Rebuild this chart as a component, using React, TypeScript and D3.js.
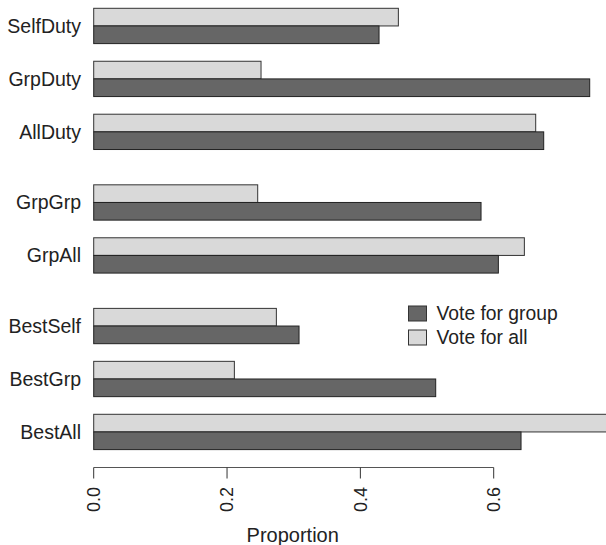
import React from "react";
import * as d3 from "d3";

const categories = ["SelfDuty", "GrpDuty", "AllDuty", "GrpGrp", "GrpAll", "BestSelf", "BestGrp", "BestAll"];
const groupOf = [0, 0, 0, 1, 1, 2, 2, 2];
const voteForGroup = [0.428, 0.744, 0.675, 0.581, 0.607, 0.308, 0.513, 0.641];
const voteForAll = [0.457, 0.251, 0.663, 0.246, 0.646, 0.274, 0.211, 0.78];
const xTicks = [0, 0.2, 0.4, 0.6];
const seriesNames = ["Vote for group", "Vote for all"];

const W = 606;
const H = 545;
const DARK = "#666666";
const LIGHT = "#d9d9d9";
const FONT = "'Liberation Sans', Arial, Helvetica, sans-serif";

export default function App() {
  const x = d3.scaleLinear().domain([0, 0.6]).range([93.7, 493.7]);

  // unit layout: each category = 2 bars, 1 unit gap between categories, 2 units between groups
  const tops: number[] = [];
  let u = 0;
  categories.forEach((_, i) => {
    if (i > 0) u += 1 + (groupOf[i] !== groupOf[i - 1] ? 1 : 0);
    tops.push(u);
    u += 2;
  });
  const y = d3.scaleLinear().domain([0, u]).range([8.3, 449.6]);
  const bh = y(1) - y(0);

  return (
    <svg
      width={W}
      height={H}
      style={{ position: "absolute", left: 0, top: 0, background: "#fff" }}
      fontFamily={FONT}
    >
      <defs>
        <clipPath id="plotclip">
          <rect x={0} y={0} width={W} height={H} />
        </clipPath>
      </defs>
      <g clipPath="url(#plotclip)">
        {categories.map((c, i) => (
          <g key={c}>
            <rect
              x={x(0)}
              y={y(tops[i])}
              width={x(voteForAll[i]) - x(0)}
              height={bh}
              fill={LIGHT}
              stroke="#333"
              strokeWidth={1}
            />
            <rect
              x={x(0)}
              y={y(tops[i] + 1)}
              width={x(voteForGroup[i]) - x(0)}
              height={bh}
              fill={DARK}
              stroke="#222"
              strokeWidth={1}
            />
            <text
              x={81}
              y={y(tops[i] + 1)}
              dy="0.35em"
              textAnchor="end"
              fontSize={19.5}
              fill="#222"
            >
              {c}
            </text>
          </g>
        ))}
      </g>

      {/* x axis */}
      <line x1={x(0)} x2={x(0.6)} y1={467.5} y2={467.5} stroke="#555" strokeWidth={1} />
      {xTicks.map((t) => (
        <g key={t}>
          <line x1={x(t)} x2={x(t)} y1={467.5} y2={478.5} stroke="#333" strokeWidth={1} />
          <text
            transform={`translate(${x(t)},${487}) rotate(-90)`}
            textAnchor="end"
            dy="0.35em"
            fontSize={18}
            fill="#222"
          >
            {d3.format(".1f")(t)}
          </text>
        </g>
      ))}
      <text x={(x(0) + x(0.6)) / 2 - 1} y={542} textAnchor="middle" fontSize={20} fill="#222">
        Proportion
      </text>

      {/* legend */}
      {seriesNames.map((s, i) => (
        <g key={s} transform={`translate(408.5,${306 + i * 24})`}>
          <rect width={18} height={15} fill={i === 0 ? DARK : LIGHT} stroke="#333" strokeWidth={1} />
          <text x={28} y={7.5} dy="0.35em" fontSize={19.3} fill="#222">
            {s}
          </text>
        </g>
      ))}
    </svg>
  );
}
